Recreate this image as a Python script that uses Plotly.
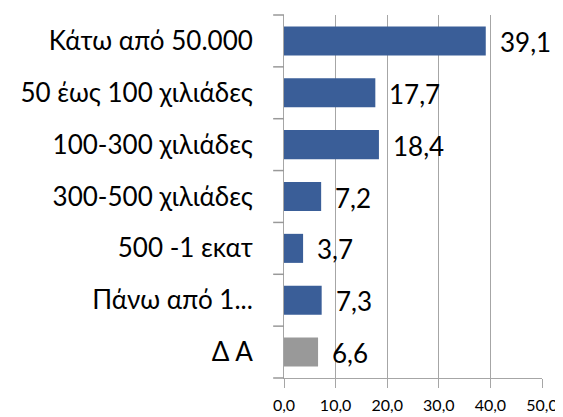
import plotly.graph_objects as go

categories = [
    "Κάτω από 50.000",
    "50 έως 100 χιλιάδες",
    "100-300 χιλιάδες",
    "300-500 χιλιάδες",
    "500 -1 εκατ",
    "Πάνω από 1...",
    "Δ Α",
]
values = [39.1, 17.7, 18.4, 7.2, 3.7, 7.3, 6.6]
tick_vals = [0, 10, 20, 30, 40, 50]
tick_text = ["0,0", "10,0", "20,0", "30,0", "40,0", "50,0"]

BLUE = "#3a5e98"
GRAY = "#999999"
AXIS = "#a6a6a6"
FONT = "Lato, 'Open Sans', sans-serif"

colors = [GRAY if c == "Δ Α" else BLUE for c in categories]

fig = go.Figure(go.Bar(
    x=values,
    y=categories,
    orientation="h",
    marker={"color": colors, "line": {"width": 0}},
    width=0.56,
))

for cat, val in zip(categories, values):
    fig.add_annotation(
        x=val, y=cat, text=f"{val:.1f}".replace(".", ","),
        showarrow=False, xanchor="left", xshift=12, yshift=-1,
        font={"size": 26, "color": "#000000", "family": FONT},
    )

# page body has an 8px margin, so the figure is sized to fit inside the window
fig.update_layout(
    width=555, height=409,
    paper_bgcolor="white", plot_bgcolor="white",
    margin={"l": 276, "r": 21, "t": 7, "b": 39},
    showlegend=False,
    bargap=0.44,
    font={"family": FONT, "color": "#000000"},
)
fig.update_xaxes(
    range=[0, 50], tickvals=tick_vals, ticktext=tick_text,
    showgrid=True, gridcolor=AXIS, gridwidth=1,
    showline=True, linecolor=AXIS, linewidth=1,
    ticks="outside", ticklen=9, tickcolor=AXIS,
    tickfont={"size": 16}, zeroline=False, fixedrange=True,
    automargin=False, ticklabelstandoff=4,
)
fig.update_yaxes(
    categoryorder="array", categoryarray=categories[::-1],
    showline=True, linecolor=AXIS, linewidth=1,
    showgrid=False, ticks="", tickfont={"size": 26},
    ticklabelstandoff=25, fixedrange=True, automargin=False,
)
# category separator ticks on the y axis (outside the plot, so paper refs)
for i in range(len(categories) + 1):
    fig.add_shape(
        type="line", xref="paper", yref="paper",
        x0=-0.042, x1=0, y0=i / len(categories), y1=i / len(categories),
        line={"color": "#999999", "width": 1.5},
    )

fig.write_html("out.html")
